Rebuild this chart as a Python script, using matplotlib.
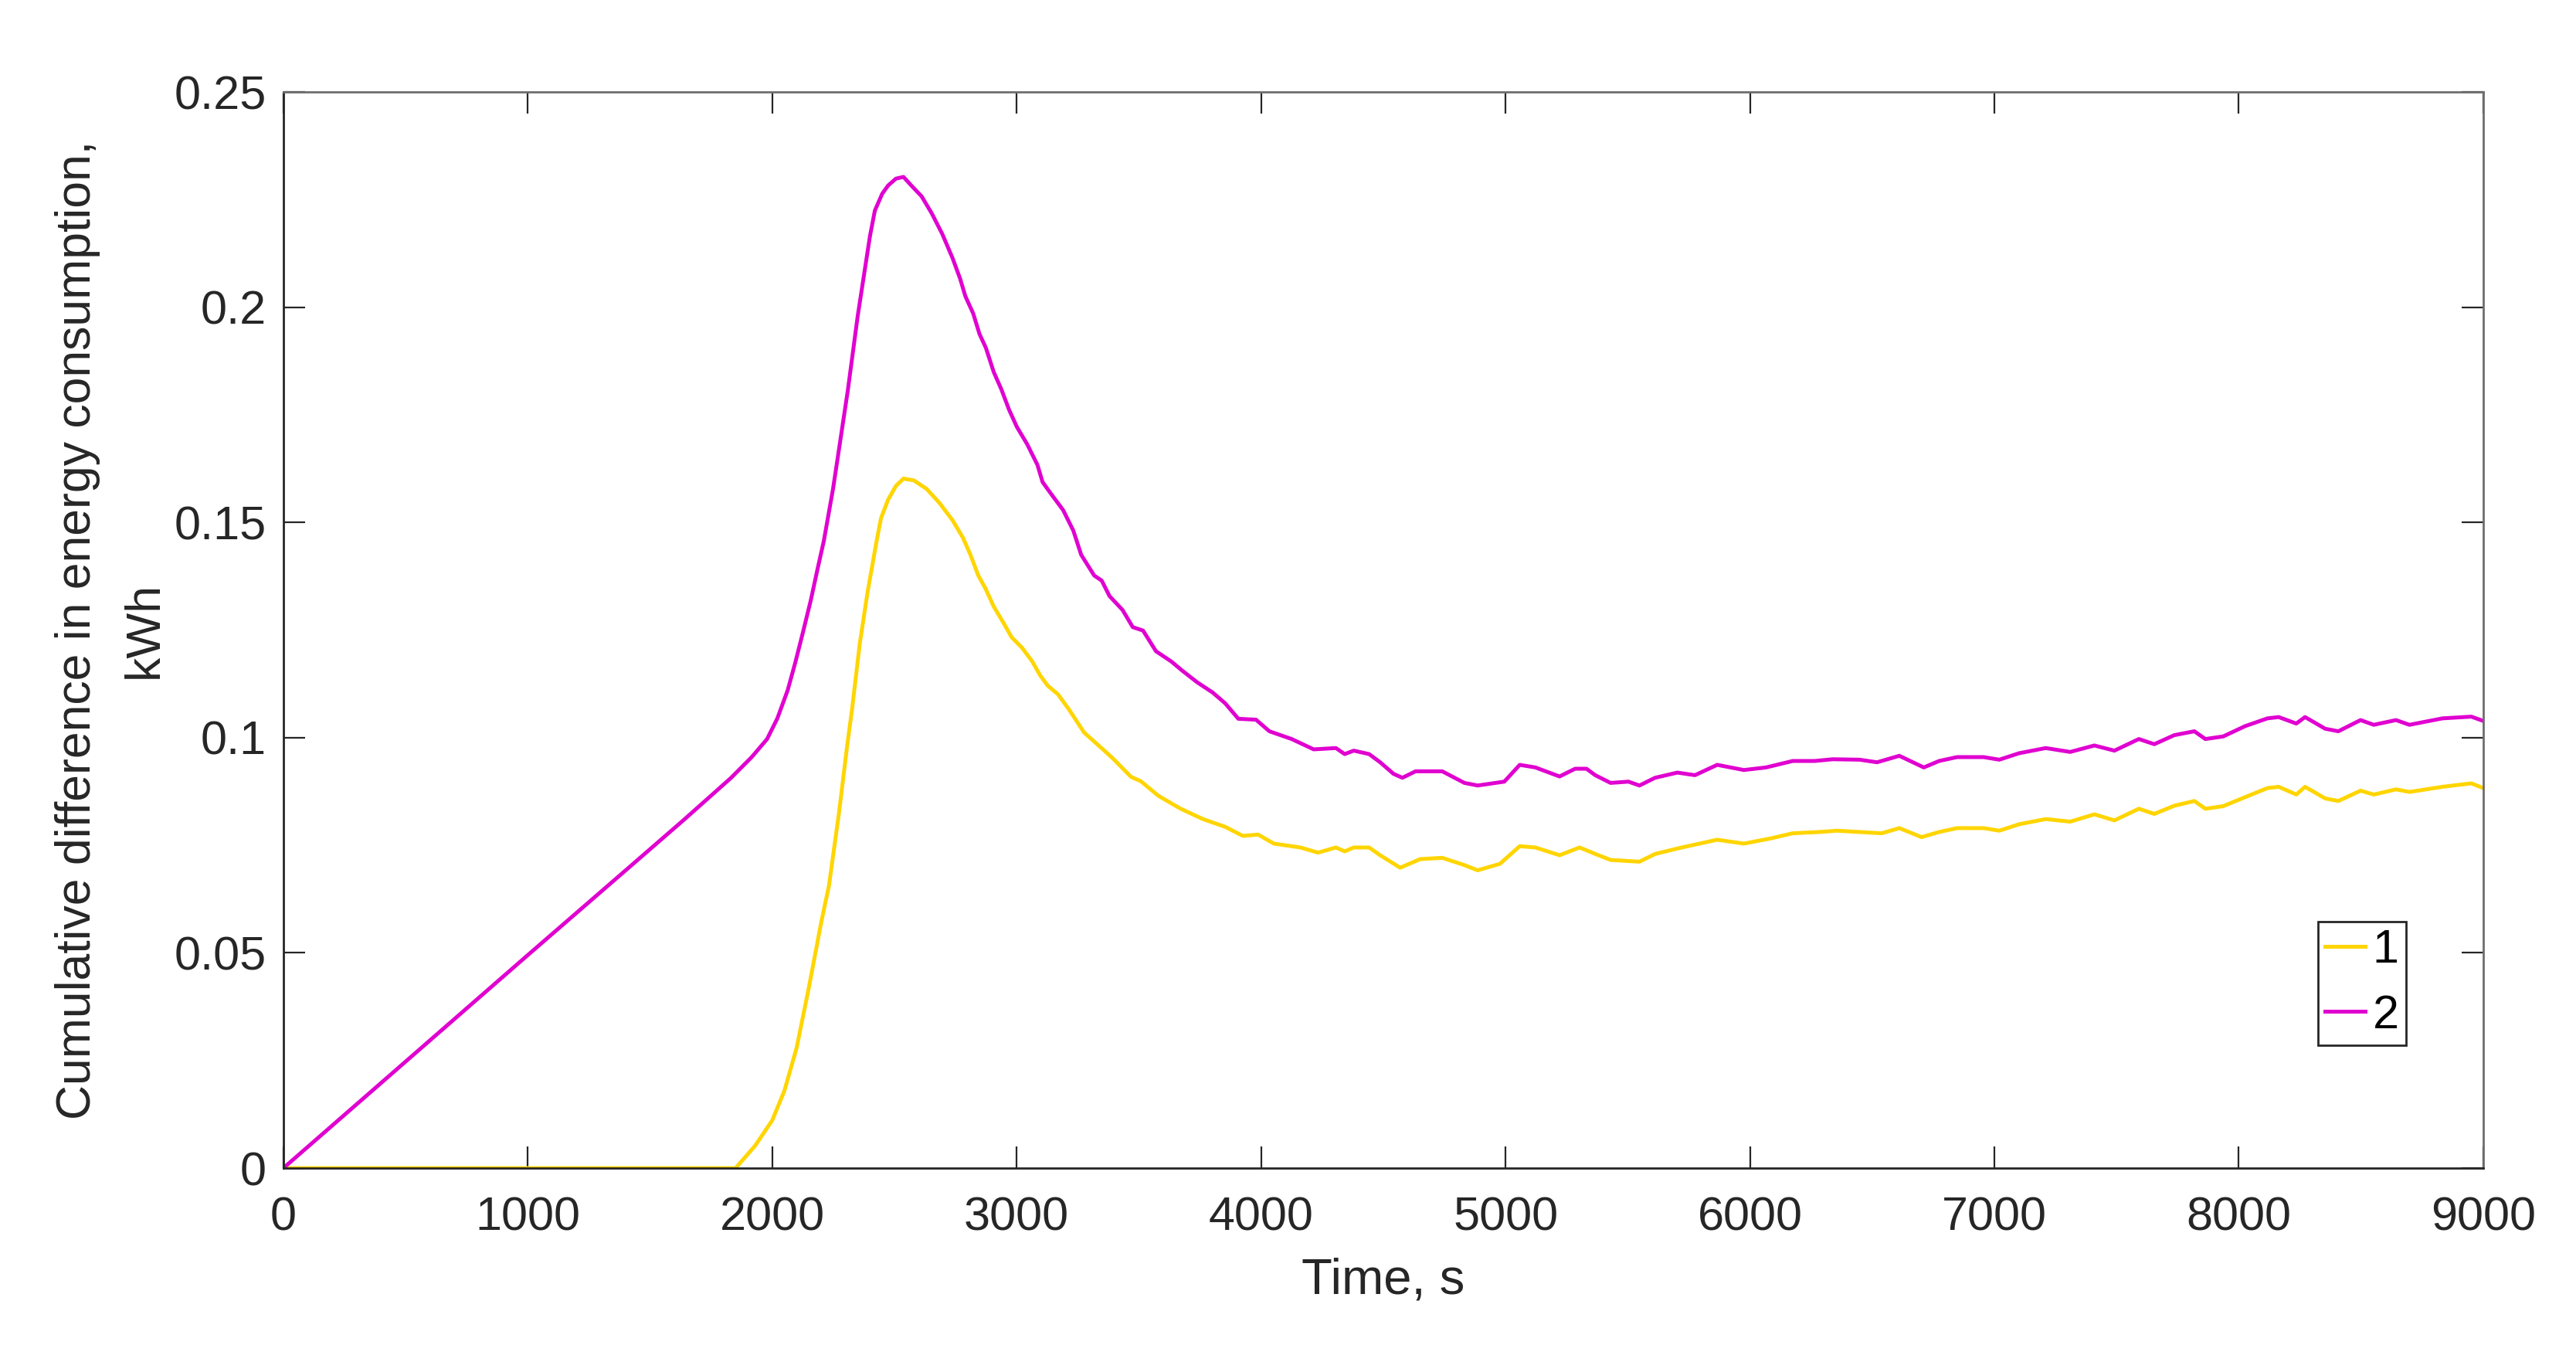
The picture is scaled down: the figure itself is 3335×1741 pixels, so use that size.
import matplotlib
matplotlib.use("Agg")
import matplotlib.pyplot as plt

# series 1 (yellow)
time_1 = [0, 1850, 1930, 2000, 2050, 2100, 2150, 2200, 2232, 2274, 2306, 2327, 2358, 2390,
          2427, 2445, 2474, 2506, 2537, 2579, 2632, 2685, 2738, 2780, 2811, 2843, 2874, 2906,
          2948, 2980, 3022, 3064, 3096, 3127, 3169, 3216, 3276, 3357, 3397, 3468, 3508, 3580,
          3671, 3762, 3853, 3925, 3988, 4052, 4161, 4233, 4306, 4342, 4379, 4442, 4487, 4569,
          4651, 4741, 4832, 4886, 4977, 5058, 5122, 5221, 5303, 5367, 5430, 5548, 5612, 5721,
          5866, 5975, 6084, 6175, 6284, 6356, 6448, 6539, 6611, 6702, 6774, 6847, 6956, 7020,
          7101, 7210, 7310, 7409, 7491, 7591, 7654, 7736, 7818, 7863, 7936, 8026, 8117, 8163,
          8235, 8271, 8353, 8407, 8498, 8552, 8643, 8698, 8833, 8951, 9000]
energy_1 = [0, 0, 0.0052, 0.0111, 0.018, 0.028, 0.042, 0.057, 0.0656, 0.0829, 0.0979, 0.1068,
            0.1218, 0.1338, 0.1457, 0.1510, 0.1553, 0.1585, 0.1602, 0.1598, 0.1578, 0.1545,
            0.1505, 0.1465, 0.1425, 0.1377, 0.1345, 0.1305, 0.1265, 0.1233, 0.1209, 0.1177,
            0.1145, 0.1121, 0.1101, 0.1064, 0.1012, 0.0971, 0.0950, 0.0909, 0.0899, 0.0865,
            0.0835, 0.0811, 0.0793, 0.0772, 0.0775, 0.0754, 0.0745, 0.0733, 0.0745, 0.0736,
            0.0745, 0.0745, 0.0727, 0.0698, 0.0718, 0.0721, 0.0704, 0.0692, 0.0707, 0.0748,
            0.0745, 0.0727, 0.0745, 0.0730, 0.0716, 0.0712, 0.0730, 0.0745, 0.0763, 0.0754,
            0.0766, 0.0778, 0.0781, 0.0784, 0.0781, 0.0778, 0.0790, 0.0769, 0.0781, 0.0790,
            0.0790, 0.0784, 0.0799, 0.0811, 0.0805, 0.0822, 0.0808, 0.0835, 0.0823, 0.0842,
            0.0853, 0.0835, 0.0841, 0.0862, 0.0883, 0.0886, 0.0868, 0.0886, 0.0859, 0.0853,
            0.0877, 0.0868, 0.0880, 0.0874, 0.0886, 0.0894, 0.0883]

# series 2 (magenta)
time_2 = [0, 1000, 1431, 1642, 1832, 1916, 1979, 2021, 2063, 2095, 2127, 2158, 2185, 2211,
          2249, 2309, 2350, 2400, 2420, 2450, 2474, 2506, 2537, 2569, 2611, 2653, 2696, 2738,
          2769, 2790, 2822, 2848, 2874, 2906, 2937, 2969, 3001, 3043, 3085, 3106, 3148, 3190,
          3232, 3264, 3317, 3348, 3380, 3433, 3475, 3517, 3570, 3633, 3675, 3738, 3802, 3853,
          3907, 3979, 4034, 4125, 4215, 4306, 4342, 4379, 4442, 4487, 4542, 4578, 4632, 4741,
          4832, 4886, 4995, 5058, 5122, 5221, 5285, 5331, 5367, 5430, 5503, 5548, 5612, 5703,
          5775, 5866, 5975, 6066, 6175, 6265, 6338, 6448, 6520, 6611, 6711, 6774, 6847, 6956,
          7020, 7101, 7210, 7310, 7409, 7491, 7591, 7654, 7736, 7818, 7863, 7936, 8026, 8117,
          8163, 8235, 8271, 8353, 8407, 8498, 8552, 8643, 8698, 8833, 8951, 9000]
energy_2 = [0, 0.0495, 0.0707, 0.0811, 0.0907, 0.0955, 0.0997, 0.1045, 0.1110, 0.1176,
            0.1248, 0.1320, 0.1391, 0.1457, 0.1579, 0.1806, 0.1981, 0.2166, 0.2225, 0.2264,
            0.2283, 0.2299, 0.2303, 0.2283, 0.2258, 0.2218, 0.2170, 0.2114, 0.2066, 0.2026,
            0.1986, 0.1938, 0.1906, 0.1850, 0.1810, 0.1762, 0.1722, 0.1682, 0.1634, 0.1594,
            0.1561, 0.1529, 0.1481, 0.1425, 0.1377, 0.1365, 0.1329, 0.1297, 0.1257, 0.1249,
            0.1201, 0.1177, 0.1157, 0.1129, 0.1105, 0.1080, 0.1044, 0.1042, 0.1015, 0.0997,
            0.0973, 0.0976, 0.0962, 0.0970, 0.0962, 0.0943, 0.0916, 0.0907, 0.0922, 0.0922,
            0.0895, 0.0889, 0.0898, 0.0937, 0.0931, 0.0910, 0.0928, 0.0928, 0.0913, 0.0895,
            0.0898, 0.0889, 0.0907, 0.0919, 0.0913, 0.0937, 0.0925, 0.0931, 0.0946, 0.0946,
            0.0950, 0.0949, 0.0943, 0.0958, 0.0931, 0.0946, 0.0955, 0.0955, 0.0949, 0.0964,
            0.0976, 0.0967, 0.0982, 0.0970, 0.0997, 0.0985, 0.1006, 0.1015, 0.0997, 0.1003,
            0.1027, 0.1045, 0.1048, 0.1033, 0.1048, 0.1021, 0.1015, 0.1041, 0.1030, 0.1041,
            0.1030, 0.1045, 0.1049, 0.1039]

x_ticks = [0, 1000, 2000, 3000, 4000, 5000, 6000, 7000, 8000, 9000]
y_ticks = [0, 0.05, 0.1, 0.15, 0.2, 0.25]
y_tick_labels = ['0', '0.05', '0.1', '0.15', '0.2', '0.25']

plt.rcParams['font.family'] = ['Liberation Sans', 'DejaVu Sans']
dark = '#262626'

fig = plt.figure(figsize=(16.675, 8.705), dpi=200)
ax = fig.add_axes([0.110, 0.1315, 0.854, 0.800])

ax.plot(time_1, energy_1, color='#FFD500', lw=1.8, label='1')
ax.plot(time_2, energy_2, color='#E000D0', lw=1.8, label='2')

ax.set_xlim(0, 9000)
ax.set_ylim(0, 0.25)
ax.set_xticks(x_ticks)
ax.set_yticks(y_ticks)
ax.set_yticklabels(y_tick_labels)
ax.tick_params(direction='in', length=10, width=0.8, colors=dark, labelsize=22,
               top=True, right=True)
ax.tick_params(axis='x', pad=13)
ax.tick_params(axis='y', pad=8)
for side in ['left', 'bottom']:
    ax.spines[side].set_color(dark)
    ax.spines[side].set_linewidth(1.0)
for side in ['top', 'right']:
    ax.spines[side].set_color('#6e6e6e')
    ax.spines[side].set_linewidth(1.0)

ax.set_xlabel('Time, s', fontsize=23.5, color=dark, labelpad=8)
ax.set_ylabel('Cumulative difference in energy consumption,\nkWh', fontsize=22.5,
              color=dark, labelpad=3, linespacing=1.6)

leg = ax.legend(loc='upper left', bbox_to_anchor=(0.925, 0.229), borderaxespad=0,
                fontsize=22, handlelength=0.85, handletextpad=0.15, borderpad=0.15,
                labelspacing=0.45, fancybox=False, framealpha=1)
leg.get_frame().set_edgecolor(dark)
leg.get_frame().set_linewidth(1.0)

fig.savefig('out.png', dpi=200)
